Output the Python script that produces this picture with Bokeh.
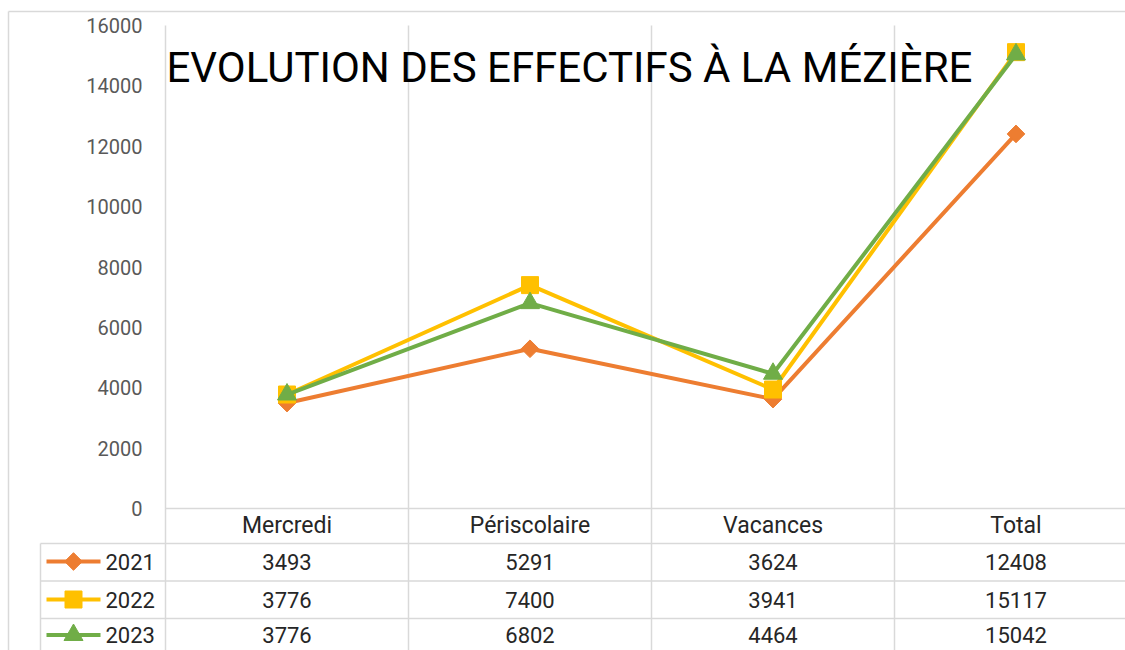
import numpy as np
from bokeh.plotting import figure
from bokeh.models import Range1d
from bokeh.core.properties import value
from bokeh.embed import file_html
from bokeh.resources import INLINE

# ---------------- data ----------------
categories = ["Mercredi", "Périscolaire", "Vacances", "Total"]
series_names = ["2021", "2022", "2023"]
values_2021 = [3493, 5291, 3624, 12408]
values_2022 = [3776, 7400, 3941, 15117]
values_2023 = [3776, 6802, 4464, 15042]
y_ticks = [0, 2000, 4000, 6000, 8000, 10000, 12000, 14000, 16000]
title_text = "EVOLUTION DES EFFECTIFS À LA MÉZIÈRE"

colors = ["#ED7D31", "#FFC000", "#70AD47"]
markers = ["square", "square", "triangle"]
marker_angles = [np.pi / 4, 0, 0]
marker_sizes = [12.5, 17, 19]
all_values = [values_2021, values_2022, values_2023]

# ---------------- layout (picture pixels -> data) ----------------
W, H = 1125, 650
ORIGIN = 0.0           # picture position of the canvas's top-left corner
PX_PER_CAT = 243.0
PLOT_LEFT = 165.0      # picture x of the left edge of the plot area
ZERO_Y = 508.0         # picture y of value 0
TOP_Y = 25.0           # picture y of value 16000
S = (ZERO_Y - TOP_Y) / 16000.0


def xd(px):
    return 0.5 + (px - PLOT_LEFT) / PX_PER_CAT


def yd(py):
    return (ZERO_Y - py) / S


p = figure(width=W, height=H, output_backend="svg", toolbar_location=None,
           x_range=Range1d(xd(ORIGIN), xd(ORIGIN + W)),
           y_range=Range1d(yd(ORIGIN + H), yd(ORIGIN)),
           x_axis_type=None, y_axis_type=None, min_border=0,
           background_fill_color="white", border_fill_color="white")
p.outline_line_color = None

GRID = "#D9D9D9"
TEXT = "#262626"
FONT = value("Roboto")
right_edge = xd(ORIGIN + W + 20)
bottom_edge = yd(ORIGIN + H + 20)

# outer chart border
p.segment(x0=[xd(8), xd(8)], y0=[yd(11), yd(11)], x1=[right_edge, xd(8)],
          y1=[yd(11), bottom_edge], line_color=GRID, line_width=1.5)

# vertical gridlines / axis line / table column lines
n = len(categories)
bounds = [i + 0.5 for i in range(n + 1)]
p.segment(x0=bounds, y0=[16000] * len(bounds), x1=bounds, y1=[bottom_edge] * len(bounds),
          line_color=GRID, line_width=1.5)

# table horizontal lines
row_lines = [543, 580.5, 618]
p.segment(x0=[xd(PLOT_LEFT)], y0=[0], x1=[right_edge], y1=[0], line_color=GRID, line_width=1.5)
p.segment(x0=[xd(40)] * len(row_lines), y0=[yd(v) for v in row_lines],
          x1=[right_edge] * len(row_lines), y1=[yd(v) for v in row_lines],
          line_color=GRID, line_width=1.5)
p.segment(x0=[xd(40)], y0=[yd(543)], x1=[xd(40)], y1=[bottom_edge], line_color=GRID, line_width=1.5)

# y tick labels
p.text(x=[xd(142)] * len(y_ticks), y=y_ticks, text=[str(t) for t in y_ticks],
       text_align="right", text_baseline="middle", text_font=FONT,
       text_font_size="20px", text_color="#595959")

# category header row
cat_x = list(range(1, n + 1))
p.text(x=cat_x, y=[yd(525)] * n, text=categories, text_align="center",
       text_baseline="middle", text_font=FONT, text_font_size="23px", text_color=TEXT)

# series lines + markers
for vals, col, mk, ang, ms in zip(all_values, colors, markers, marker_angles, marker_sizes):
    p.line(cat_x, vals, line_color=col, line_width=4)
    p.scatter(cat_x, vals, marker=mk, angle=ang, size=ms, fill_color=col, line_color=col)

# data table rows
row_centers = [561.0, 599.0, 634.5]
for name, vals, col, mk, ang, ms, ry in zip(series_names, all_values, colors, markers,
                                            marker_angles, marker_sizes, row_centers):
    y = yd(ry)
    p.segment(x0=[xd(46)], y0=[y], x1=[xd(100)], y1=[y], line_color=col, line_width=4)
    p.scatter([xd(73)], [y], marker=mk, angle=ang, size=ms, fill_color=col, line_color=col)
    p.text(x=[xd(105)], y=[y], text=[name], text_align="left", text_baseline="middle",
           text_font=FONT, text_font_size="22px", text_color=TEXT)
    p.text(x=cat_x, y=[y] * n, text=[str(v) for v in vals], text_align="center",
           text_baseline="middle", text_font=FONT, text_font_size="22px", text_color=TEXT)

# title inside plot area
p.text(x=[xd(166)], y=[yd(67)], text=[title_text], text_align="left",
       text_baseline="alphabetic", text_font=FONT, text_font_size="42px", text_color="#000000")

open("out.html", "w").write(file_html(p, INLINE))
